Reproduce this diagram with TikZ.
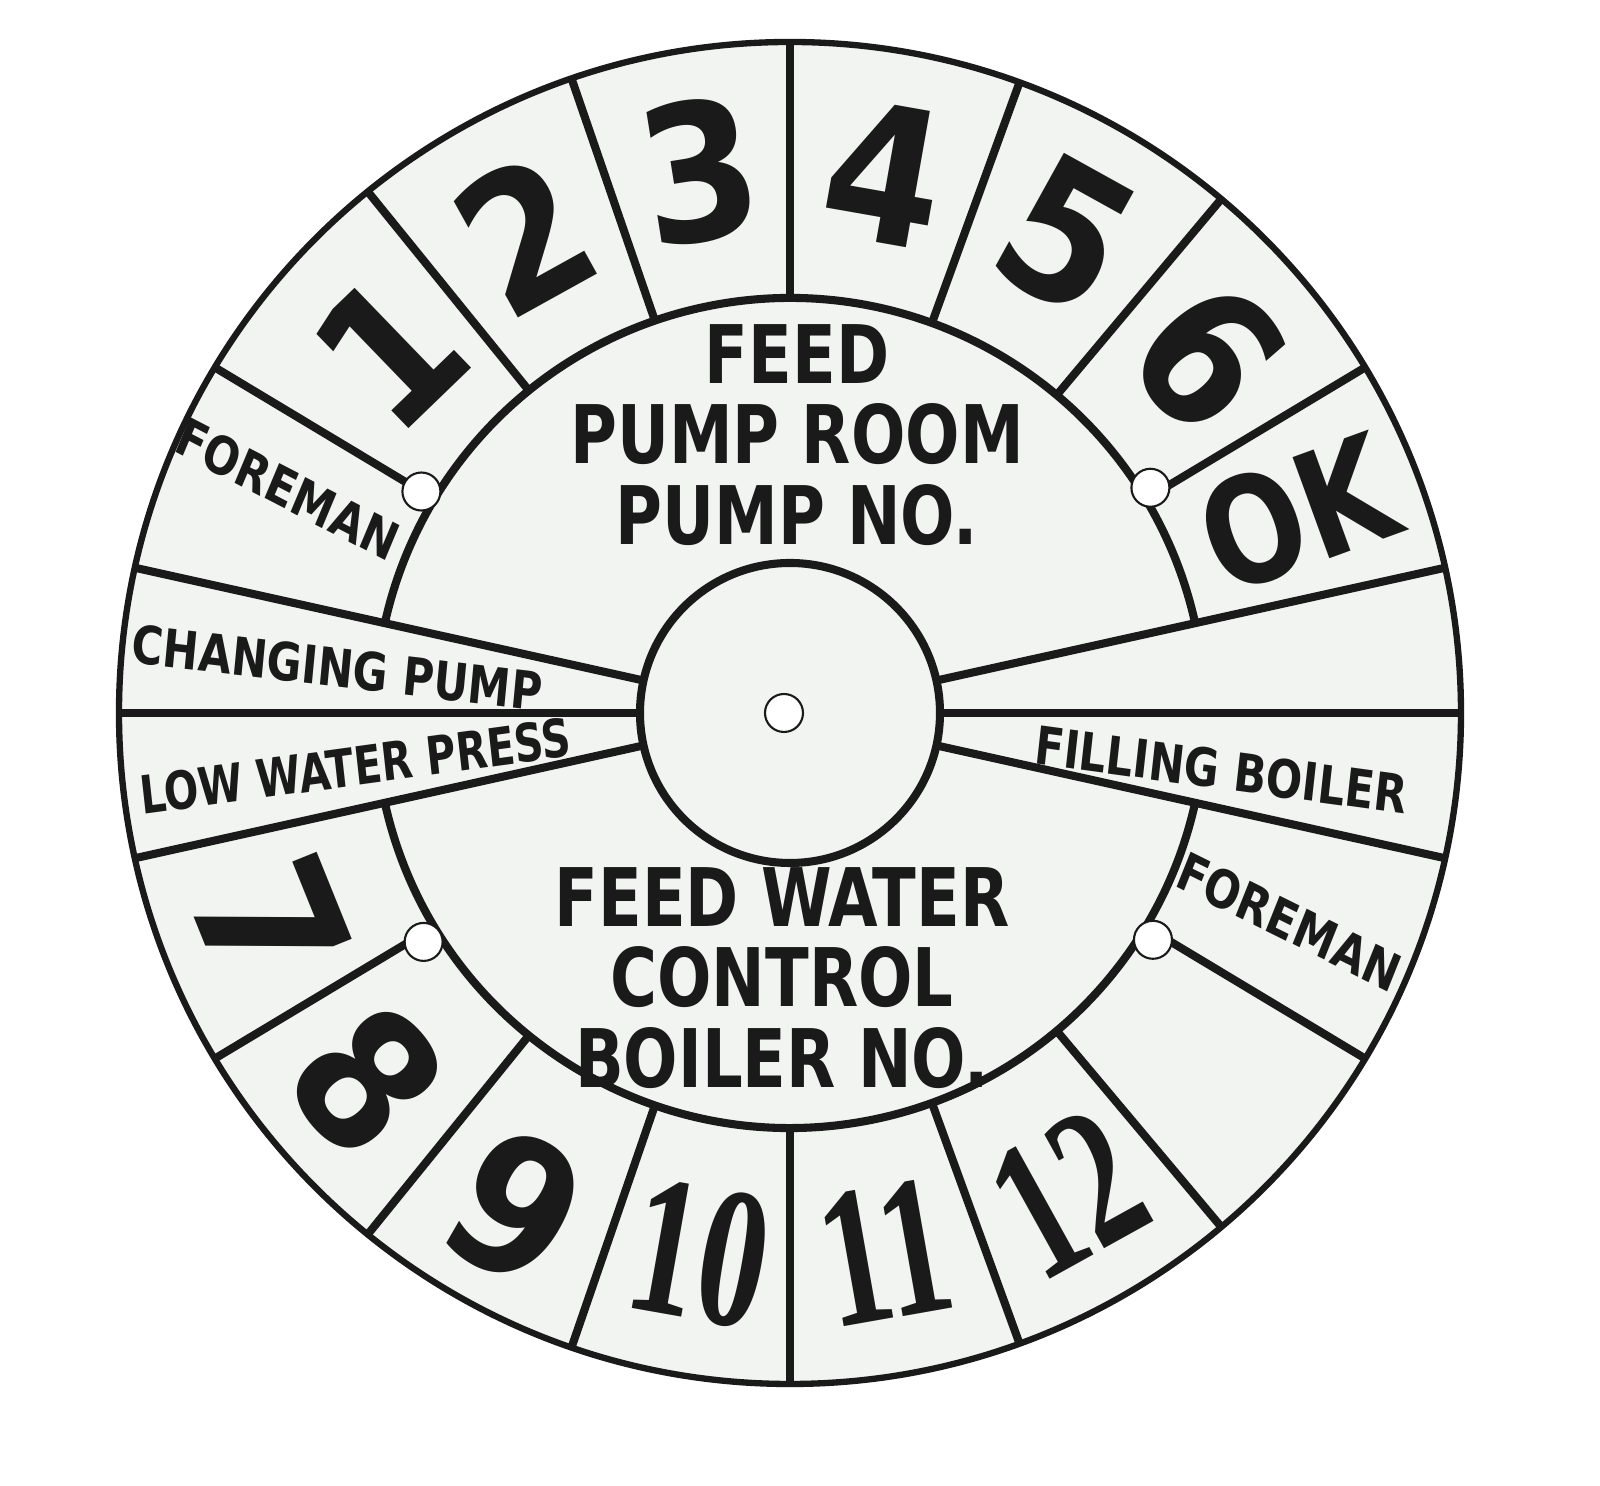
\documentclass[tikz,border=0pt]{standalone}
\usepackage{fontspec}
\usepackage{graphicx}
\newfontfamily\labelfont{DejaVu Sans Condensed}
\newfontfamily\oldfont{Liberation Serif}
\definecolor{ink}{RGB}{26,26,26}
\definecolor{enamel}{RGB}{242,244,242}
\tikzstyle{plate}=[fill=enamel, draw=ink, line width=1.8pt]
\tikzstyle{rule}=[draw=ink, line width=2.3pt]
\tikzstyle{hole}=[circle, fill=white, draw=ink, line width=0.6pt, inner sep=0pt, minimum size=3.8mm]
\tikzstyle{numeral}=[text=ink, inner sep=0pt, font=\labelfont\bfseries\fontsize{54}{54}\selectfont]
\tikzstyle{oldnumeral}=[text=ink, inner sep=0pt, font=\oldfont\bfseries\fontsize{57}{57}\selectfont]
\tikzstyle{caption}=[text=ink, align=center, inner sep=0pt, xscale=0.88, transform shape, font=\labelfont\bfseries\fontsize{23}{22.8}\selectfont]
\tikzstyle{tag}=[text=ink, inner sep=0pt, xscale=0.9, transform shape, font=\labelfont\bfseries\fontsize{15}{15}\selectfont]

\begin{document}
\begin{tikzpicture}[x=0.1mm, y=0.1mm]
    \useasboundingbox (-790,-773) rectangle (810,713);
    \fill[white] (-790,-773) rectangle (810,713);
    % dial plate and rings
    \filldraw[plate] (0,0) circle (671);
    \draw[rule] (12.5:415) arc (12.5:167.5:415);
    \draw[rule] (192.5:415) arc (192.5:347.5:415);
    \draw[rule] (0,0) circle (150);
    % band lines and dividers
    \foreach \a in {-12.5,0,12.5,167.5,180,192.5}
        \draw[rule] (\a:150) -- (\a:669);
    \foreach \a in {31,50,70,90,109,129,149,211,231,251,270,290,310,329}
        \draw[rule] (\a:415) -- (\a:669);
    % holes
    \node[hole] (hc) at (-6,0) {};
    \node[hole] (hnw) at (149:430) {};
    \node[hole] (hne) at (32:425) {};
    \node[hole] (hsw) at (212:432) {};
    \node[hole] (hse) at (328:428) {};
    % upper numbers
    \node[numeral, rotate=44] (n1) at (138:540) {1};
    \node[numeral, rotate=29] (n2) at (119:548) {2};
    \node[numeral, rotate=9] (n3) at (99.5:550) {3};
    \node[numeral, rotate=-10] (n4) at (80:548) {4};
    \node[numeral, rotate=-29] (n5) at (60:552) {5};
    \node[numeral, rotate=-49] (n6) at (40.5:550) {6};
    \node[numeral, rotate=20, font=\labelfont\bfseries\fontsize{42}{42}\selectfont] (nok) at (21.5:545) {\scalebox{0.9}[1]{OK}};
    % lower numbers
    \node[numeral, rotate=-68] (n7) at (202:560) {7};
    \node[numeral, rotate=-49] (n8) at (221:560) {8};
    \node[numeral, rotate=-30] (n9) at (241:565) {9};
    \node[oldnumeral, rotate=-10] (n10) at (260.5:548) {\scalebox{0.68}[1]{10}};
    \node[oldnumeral, rotate=10] (n11) at (280:548) {\scalebox{0.68}[1]{11}};
    \node[oldnumeral, rotate=29] (n12) at (300:555) {\scalebox{0.68}[1]{12}};
    % side labels
    \node[tag, rotate=-25] (fmleft) at (156:550) {FOREMAN};
    \node[tag, rotate=-24] (fmright) at (-22.7:541) {FOREMAN};
    \node[tag, rotate=-6] (changing) at (174.3:455) {CHANGING PUMP};
    \node[tag, rotate=7, xscale=0.95] (lowpress) at (187:438) {LOW WATER PRESS};
    \node[tag, rotate=-7] (filling) at (-7.5:435) {FILLING BOILER};
    % centre captions
    \node[caption] (pumproom) at (7,278) {FEED\\PUMP ROOM\\PUMP NO.};
    \node[caption] (feedwater) at (-8,-265) {FEED WATER\\CONTROL\\BOILER NO.};
\end{tikzpicture}
\end{document}
